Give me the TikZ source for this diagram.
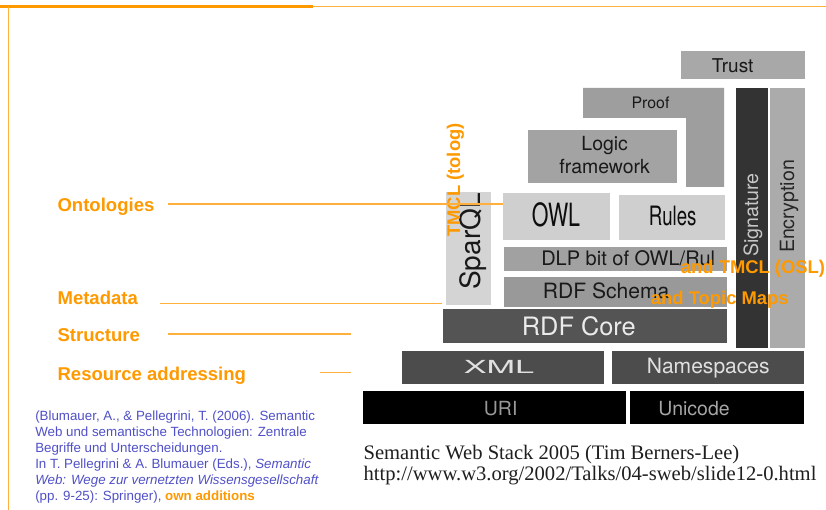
\documentclass[tikz,border=0pt]{standalone}
\usepackage{fontspec}
\setmainfont{Liberation Sans}
\newfontfamily\heros{TeX Gyre Heros}
\newfontfamily\tms{Liberation Serif}
\definecolor{org}{RGB}{255,153,0}
\definecolor{orgl}{RGB}{255,176,60}
\definecolor{citeblue}{RGB}{80,80,200}
\begin{document}
\begin{tikzpicture}[x=0.75pt,y=-0.75pt,
  lay/.style={font=\heros\fontsize{#1}{#1}\selectfont, inner sep=0, anchor=base},
  lbl/.style={font=\fontsize{13.9}{16}\selectfont\bfseries, text=org, inner sep=0, anchor=base west},
  ovl/.style={font=\fontsize{13.8}{16}\selectfont\bfseries, text=org, inner sep=0},
  pointer/.style={draw=orgl, line width=0.9pt}
]
\useasboundingbox (0,0) rectangle (826,510);
\fill[white] (0,0) rectangle (826,510);
% frame lines
\fill[org] (0,5) rectangle (313,8.5);
\draw[orgl, line width=0.8pt] (313,6.7) -- (826,6.7);
\draw[orgl, line width=0.9pt] (8.3,7) -- (8.3,510);

% boxes
\fill[black!34] (681,51) rectangle (805,79);
\fill[black!38] (583,88) -- (724,88) -- (724,187) -- (686,187) -- (686,118) -- (583,118) -- cycle;
\fill[black!80] (736,88) rectangle (768,348);
\fill[black!33] (770,88) rectangle (805,348);
\fill[black!36] (528,130) rectangle (677,183);
\fill[black!17] (446,192) rectangle (491,305);
\fill[black!19] (503,193) rectangle (610,240);
\fill[black!19] (619,195) rectangle (725,240);
\fill[black!37] (504,247) rectangle (727,271);
\fill[black!40] (504,277) rectangle (727,307);
\fill[black!67] (443,309) rectangle (727,343);
\fill[black!70] (402,351) rectangle (604,384);
\fill[black!70] (612,351) rectangle (804,384);
\fill[black] (363,391) rectangle (626,424);
\fill[black] (630,391) rectangle (804,424);

% box texts
\node[lay=14.25, text=black!90] (trust) at (732.7,72.3) {Trust};
\node[lay=11.9, text=black!90] (proof) at (650.5,108.3) {Proof};
\node[lay=14.6, text=black!90, align=center, font=\heros\fontsize{14.6}{17.3}\selectfont] (logic) at (604.7,173.3) {Logic\\framework};
\node[lay=24, text=black!95, xscale=0.67] (owl) at (556,226.7) {OWL};
\node[lay=20, text=black!95, xscale=0.7] (rules) at (672.7,225) {Rules};
\node[lay=21, text=black!90, rotate=90] (sparql) at (480,241.5) {SparQL};
\node[lay=15, text=black!90, anchor=base west] (dlp) at (541,265) {DLP bit of OWL/Rul};
\node[lay=15.8, text=black!90, anchor=base west] (rdfs) at (542.7,298.3) {RDF Schema};
\node[lay=19, text=black!8] (rdfcore) at (578.8,335) {RDF Core};
\node[lay=13.5, text=black!12, xscale=1.9] (xml) at (499,373.3) {XML};
\node[lay=15.8, text=black!12] (ns) at (708.3,373.3) {Namespaces};
\node[lay=14.6, text=black!40] (uri) at (500.7,415) {URI};
\node[lay=14.6, text=black!35] (uni) at (694,415) {Unicode};
\node[lay=14.7, text=black!22, rotate=90] (sig) at (758,215) {Signature};
\node[lay=14.7, text=black!85, rotate=90] (enc) at (794,206.5) {Encryption};

% orange overlays
\node[ovl, anchor=base, rotate=90] (tmcl) at (460,180) {TMCL (tolog)};
\node[ovl, anchor=base west] (tmclosl) at (680.7,273) {and TMCL (OSL)};
\node[ovl, anchor=base west] (topic) at (650.7,305) {and Topic Maps};

% left labels
\node[lbl] (ont) at (57.3,211.2) {Ontologies};
\node[lbl] (meta) at (57.3,304.3) {Metadata};
\node[lbl] (struct) at (57.3,341.5) {Structure};
\node[lbl] (res) at (57.3,380) {Resource addressing};

\coordinate (o1) at (168,204);   \coordinate (o2) at (503,204);
\coordinate (m1) at (160,303.5); \coordinate (m2) at (441.7,303.5);
\coordinate (s1) at (168,334);   \coordinate (s2) at (350.7,334);
\coordinate (r1) at (320,372.3); \coordinate (r2) at (350.7,372.3);
\draw[pointer] (o1) -- (o2);
\draw[pointer] (m1) -- (m2);
\draw[pointer] (s1) -- (s2);
\draw[pointer] (r1) -- (r2);

% citation
\node[inner sep=0, anchor=base west, align=left, text=citeblue, font=\fontsize{10}{11.9}\selectfont] (cite) at (35,500)
{(Blumauer, A., \& Pellegrini, T. (2006). Semantic\\
Web und semantische Technologien: Zentrale\\
Begriffe und Unterscheidungen.\\
In T. Pellegrini \& A. Blumauer (Eds.), \textit{Semantic}\\
\textit{Web: Wege zur vernetzten Wissensgesellschaft}\\
(pp. 9-25): Springer), {\color{org}\bfseries own additions}};

% caption
\node[inner sep=0, anchor=base west, align=left, text=black!88, font=\tms\fontsize{15.45}{13.25}\selectfont] (cap) at (363.3,480)
{Semantic Web Stack 2005 (Tim Berners-Lee)\\
http://www.w3.org/2002/Talks/04-sweb/slide12-0.html};
\end{tikzpicture}
\end{document}
